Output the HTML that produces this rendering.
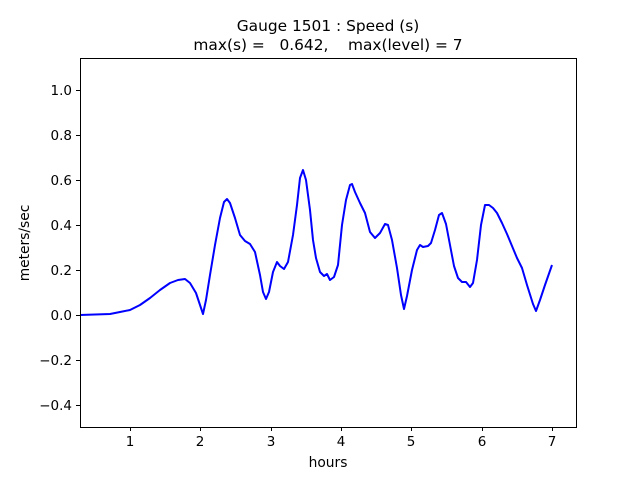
<!DOCTYPE html>
<html><head><style>
body{margin:0;background:#fff;}
svg text{font-family:"DejaVu Sans","Liberation Sans",sans-serif;fill:#000;}
</style></head><body>
<svg width="640" height="480" xmlns="http://www.w3.org/2000/svg">
<rect width="640" height="480" fill="#fff"/>
<text x="328" y="31" font-size="15.4" text-anchor="middle">Gauge 1501 : Speed (s)</text>
<text x="328" y="50" font-size="15.4" text-anchor="middle" xml:space="preserve">max(s) =   0.642,    max(level) = 7</text>
<polyline fill="none" stroke="#0000ff" stroke-width="2" stroke-linejoin="round" points="80,315 110,314 120,312 130,310 140,305 150,298 160,290 170,283 178,280 185,279 190,283 196,293 200,305 203,314 206,300 210,275 215,245 220,218 224,202 227,199 230,203 235,218 240,235 245,241 250,244 255,252 260,275 263,292 266,299 269,292 273,272 277,262 280,266 284,269 288,262 293,235 297,205 300,178 303,170 306,180 310,210 313,240 316,258 320,272 324,276 327,274 330,280 334,277 338,265 342,225 346,200 350,185 352,184 355,192 360,203 365,213 370,232 375,238 380,233 385,224 388,225 392,240 397,268 401,295 404,309 407,296 412,270 417,250 420,245 423,247 428,246 431,243 435,230 439,215 442,213 446,224 450,245 454,266 458,278 462,282 466,282 470,287 473,283 477,260 481,225 485,205 489,205 493,208 497,213 502,223 507,234 512,246 517,258 522,268 527,285 533,304 536,311 540,300 545,285 552,265"/>
<rect x="80.5" y="58.5" width="496" height="369" fill="none" stroke="#000" stroke-width="1"/>
<g stroke="#000" stroke-width="1">
<line x1="130.5" y1="428" x2="130.5" y2="431"/><line x1="200.5" y1="428" x2="200.5" y2="431"/><line x1="271.5" y1="428" x2="271.5" y2="431"/><line x1="341.5" y1="428" x2="341.5" y2="431"/><line x1="411.5" y1="428" x2="411.5" y2="431"/><line x1="482.5" y1="428" x2="482.5" y2="431"/><line x1="552.5" y1="428" x2="552.5" y2="431"/>
<line x1="76" y1="90.5" x2="80" y2="90.5"/><line x1="76" y1="135.5" x2="80" y2="135.5"/><line x1="76" y1="180.5" x2="80" y2="180.5"/><line x1="76" y1="225.5" x2="80" y2="225.5"/><line x1="76" y1="270.5" x2="80" y2="270.5"/><line x1="76" y1="315.5" x2="80" y2="315.5"/><line x1="76" y1="360.5" x2="80" y2="360.5"/><line x1="76" y1="405.5" x2="80" y2="405.5"/>
</g>
<g font-size="13.5" text-anchor="middle">
<text x="130" y="446">1</text><text x="200" y="446">2</text><text x="271" y="446">3</text><text x="341" y="446">4</text><text x="411" y="446">5</text><text x="482" y="446">6</text><text x="552" y="446">7</text>
</g>
<g font-size="13.5" text-anchor="end">
<text x="72" y="95">1.0</text><text x="72" y="140">0.8</text><text x="72" y="185">0.6</text><text x="72" y="230">0.4</text><text x="72" y="275">0.2</text><text x="72" y="320">0.0</text><text x="72" y="365">−0.2</text><text x="72" y="410">−0.4</text>
</g>
<text x="328" y="467" font-size="13.8" text-anchor="middle">hours</text>
<text x="0" y="0" font-size="13.8" text-anchor="middle" transform="translate(29,243) rotate(-90)">meters/sec</text>
</svg>
</body></html>
